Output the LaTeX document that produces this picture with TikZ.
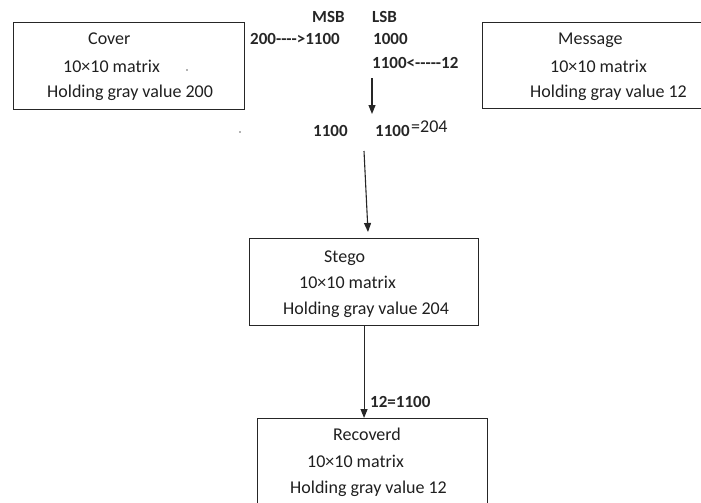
\documentclass[tikz,border=0pt]{standalone}
\usepackage{fontspec}
\setmainfont{Carlito}
\usetikzlibrary{arrows.meta}
\begin{document}
\begin{tikzpicture}[x=1pt,y=-1pt,
  box/.style={draw=black!85,line width=1.1pt,inner sep=0pt,anchor=north west},
  txt/.style={anchor=base west,inner sep=0pt,font=\fontsize{18}{20}\selectfont,text=black!88},
  num/.style={anchor=base west,inner sep=0pt,font=\fontsize{17}{20}\selectfont\bfseries,text=black!85},
  arr/.style={draw=black!85,line width=1.1pt,-{Triangle[length=9pt,width=7pt]}},
  dotmark/.style={circle,fill=black!60,inner sep=0pt,minimum size=1.8pt}]
\useasboundingbox (0,0) rectangle (701,503);
\clip (0,0) rectangle (701,503);
% boxes
\node[box,minimum width=231pt,minimum height=87pt] (cover) at (13,22) {};
\node[box,minimum width=240pt,minimum height=86pt] (msg) at (482,22) {};
\node[box,minimum width=229pt,minimum height=87pt] (stego) at (249,238) {};
\node[box,minimum width=230pt,minimum height=110pt] (rec) at (257,418) {};
% cover text
\node[txt] (cov1) at (88,45) {Cover};
\node[txt] (cov2) at (63,72) {10×10 matrix};
\node[txt] (cov3) at (47,97) {Holding gray value 200};
\node[dotmark] (dot1) at (187,70) {};
% message text
\node[txt] (msg1) at (558,45) {Message};
\node[txt] (msg2) at (550,72) {10×10 matrix};
\node[txt] (msg3) at (530,97) {Holding gray value 12};
% stego text
\node[txt] (st1) at (324,262) {Stego};
\node[txt] (st2) at (299,288) {10×10 matrix};
\node[txt] (st3) at (283,314) {Holding gray value 204};
% recovered text
\node[txt] (rc1) at (333,440) {Recoverd};
\node[txt] (rc2) at (307,467) {10×10 matrix};
\node[txt] (rc3) at (290,493) {Holding gray value 12};
% bit labels
\node[num] (msb) at (312,23) {MSB};
\node[num] (lsb) at (372,23) {LSB};
\node[num] (b200) at (250,45) {200-{}-{}-{}->1100};
\node[num] (b1000) at (373,45) {1000};
\node[num] (b12) at (372,68) {1100<-{}-{}-{}-{}-12};
\node[num] (r1) at (313,136) {1100};
\node[num] (r2) at (375,136) {1100};
\node[txt] (r3) at (411,132) {=204};
\node[dotmark] (dot2) at (240,132) {};
\node[num] (lab12) at (370,407) {12=1100};
% connectors
\coordinate (a1s) at (372,78);
\coordinate (a1e) at (372,114);
\draw[arr] (a1s) -- (a1e);
\coordinate (a2s) at (364,151);
\coordinate (a2e) at (368,232);
\draw[arr] (a2s) -- (a2e);
\draw[arr] (stego.south) -- (stego.south |- rec.north);
\end{tikzpicture}
\end{document}
